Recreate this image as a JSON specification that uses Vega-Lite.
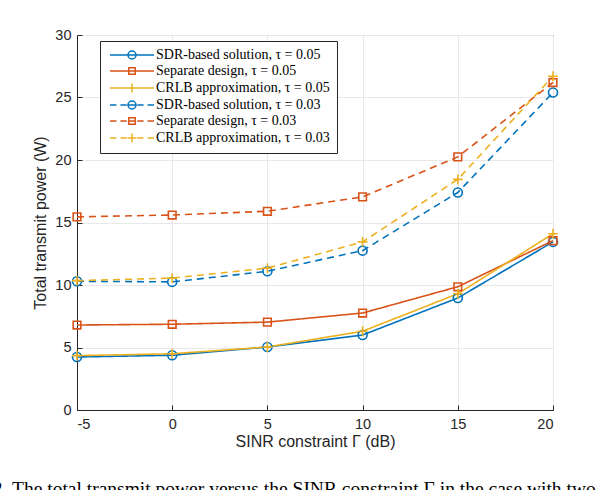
{
  "$schema": "https://vega.github.io/schema/vega-lite/v6.json",
  "autosize": "none",
  "width": 476,
  "height": 375,
  "padding": {"left": 77, "top": 35, "right": 43, "bottom": 80},
  "background": "white",
  "config": {
    "view": {"stroke": "#262626", "strokeWidth": 1},
    "axis": {
      "labelFont": "Liberation Sans",
      "labelFontSize": 14.5,
      "labelColor": "#262626",
      "titleFont": "Liberation Sans",
      "titleFontSize": 16,
      "titleFontWeight": "normal",
      "titleColor": "#262626",
      "domainColor": "#262626",
      "tickColor": "#262626",
      "gridColor": "#e8e8e8",
      "tickSize": -5,
      "labelExpr": "'' + datum.value"
    }
  },
  "title": {
    "text": "2. The total transmit power versus the SINR constraint Γ in the case with two",
    "orient": "bottom",
    "anchor": "start",
    "dx": -40,
    "offset": 30,
    "font": "Liberation Serif",
    "fontSize": 19.5,
    "fontWeight": "normal",
    "color": "black",
    "baseline": "top"
  },
  "data": {
    "values": [
      {"gamma": -5, "power": 4.24, "series": "SDR-based solution, τ = 0.05"},
      {"gamma": 0, "power": 4.38, "series": "SDR-based solution, τ = 0.05"},
      {"gamma": 5, "power": 5.04, "series": "SDR-based solution, τ = 0.05"},
      {"gamma": 10, "power": 6.0, "series": "SDR-based solution, τ = 0.05"},
      {"gamma": 15, "power": 8.96, "series": "SDR-based solution, τ = 0.05"},
      {"gamma": 20, "power": 13.45, "series": "SDR-based solution, τ = 0.05"},
      {"gamma": -5, "power": 6.8, "series": "Separate design, τ = 0.05"},
      {"gamma": 0, "power": 6.86, "series": "Separate design, τ = 0.05"},
      {"gamma": 5, "power": 7.03, "series": "Separate design, τ = 0.05"},
      {"gamma": 10, "power": 7.76, "series": "Separate design, τ = 0.05"},
      {"gamma": 15, "power": 9.86, "series": "Separate design, τ = 0.05"},
      {"gamma": 20, "power": 13.55, "series": "Separate design, τ = 0.05"},
      {"gamma": -5, "power": 4.35, "series": "CRLB approximation, τ = 0.05"},
      {"gamma": 0, "power": 4.5, "series": "CRLB approximation, τ = 0.05"},
      {"gamma": 5, "power": 5.04, "series": "CRLB approximation, τ = 0.05"},
      {"gamma": 10, "power": 6.3, "series": "CRLB approximation, τ = 0.05"},
      {"gamma": 15, "power": 9.3, "series": "CRLB approximation, τ = 0.05"},
      {"gamma": 20, "power": 14.1, "series": "CRLB approximation, τ = 0.05"},
      {"gamma": -5, "power": 10.3, "series": "SDR-based solution, τ = 0.03"},
      {"gamma": 0, "power": 10.25, "series": "SDR-based solution, τ = 0.03"},
      {"gamma": 5, "power": 11.1, "series": "SDR-based solution, τ = 0.03"},
      {"gamma": 10, "power": 12.75, "series": "SDR-based solution, τ = 0.03"},
      {"gamma": 15, "power": 17.4, "series": "SDR-based solution, τ = 0.03"},
      {"gamma": 20, "power": 25.4, "series": "SDR-based solution, τ = 0.03"},
      {"gamma": -5, "power": 15.45, "series": "Separate design, τ = 0.03"},
      {"gamma": 0, "power": 15.6, "series": "Separate design, τ = 0.03"},
      {"gamma": 5, "power": 15.9, "series": "Separate design, τ = 0.03"},
      {"gamma": 10, "power": 17.05, "series": "Separate design, τ = 0.03"},
      {"gamma": 15, "power": 20.25, "series": "Separate design, τ = 0.03"},
      {"gamma": 20, "power": 26.2, "series": "Separate design, τ = 0.03"},
      {"gamma": -5, "power": 10.35, "series": "CRLB approximation, τ = 0.03"},
      {"gamma": 0, "power": 10.55, "series": "CRLB approximation, τ = 0.03"},
      {"gamma": 5, "power": 11.35, "series": "CRLB approximation, τ = 0.03"},
      {"gamma": 10, "power": 13.45, "series": "CRLB approximation, τ = 0.03"},
      {"gamma": 15, "power": 18.45, "series": "CRLB approximation, τ = 0.03"},
      {"gamma": 20, "power": 26.7, "series": "CRLB approximation, τ = 0.03"}
    ]
  },
  "encoding": {
    "x": {
      "field": "gamma",
      "type": "quantitative",
      "scale": {"domain": [-5, 20], "nice": false, "zero": false},
      "axis": {"values": [-5, 0, 5, 10, 15, 20], "title": "SINR constraint Γ (dB)", "labelPadding": 12, "titlePadding": 3}
    },
    "y": {
      "field": "power",
      "type": "quantitative",
      "scale": {"domain": [0, 30], "nice": false},
      "axis": {"values": [0, 5, 10, 15, 20, 25, 30], "title": "Total transmit power (W)", "labelPadding": 11, "titlePadding": 6}
    }
  },
  "layer": [
    {
      "mark": {"type": "line", "strokeWidth": 1.6},
      "encoding": {
        "color": {
          "field": "series",
          "type": "nominal",
          "scale": {
            "domain": ["SDR-based solution, τ = 0.05", "Separate design, τ = 0.05", "CRLB approximation, τ = 0.05", "SDR-based solution, τ = 0.03", "Separate design, τ = 0.03", "CRLB approximation, τ = 0.03"],
            "range": ["#0072BD", "#D95319", "#EDB120", "#0072BD", "#D95319", "#EDB120"]
          },
          "legend": null
        },
        "strokeDash": {
          "field": "series",
          "type": "nominal",
          "scale": {
            "domain": ["SDR-based solution, τ = 0.05", "Separate design, τ = 0.05", "CRLB approximation, τ = 0.05", "SDR-based solution, τ = 0.03", "Separate design, τ = 0.03", "CRLB approximation, τ = 0.03"],
            "range": [[1, 0], [1, 0], [1, 0], [7, 5], [7, 5], [7, 5]]
          },
          "legend": null
        }
      }
    },
    {
      "mark": {"type": "point", "filled": false, "size": 81, "strokeWidth": 1.6, "opacity": 1},
      "encoding": {
        "color": {
          "field": "series",
          "type": "nominal",
          "scale": {
            "domain": ["SDR-based solution, τ = 0.05", "Separate design, τ = 0.05", "CRLB approximation, τ = 0.05", "SDR-based solution, τ = 0.03", "Separate design, τ = 0.03", "CRLB approximation, τ = 0.03"],
            "range": ["#0072BD", "#D95319", "#EDB120", "#0072BD", "#D95319", "#EDB120"]
          },
          "legend": null
        },
        "shape": {
          "field": "series",
          "type": "nominal",
          "scale": {
            "domain": ["SDR-based solution, τ = 0.05", "Separate design, τ = 0.05", "CRLB approximation, τ = 0.05", "SDR-based solution, τ = 0.03", "Separate design, τ = 0.03", "CRLB approximation, τ = 0.03"],
            "range": ["circle", "M-0.85,-0.85H0.85V0.85H-0.85Z", "M-1.1,0H1.1M0,-1.1V1.1", "circle", "M-0.85,-0.85H0.85V0.85H-0.85Z", "M-1.1,0H1.1M0,-1.1V1.1"]
          },
          "legend": null
        }
      }
    },
    {
      "mark": {"type": "point", "filled": false, "size": 64, "strokeWidth": 1.5, "opacity": 0},
      "encoding": {
        "color": {
          "field": "series",
          "type": "nominal",
          "scale": {
            "domain": ["SDR-based solution, τ = 0.05", "Separate design, τ = 0.05", "CRLB approximation, τ = 0.05", "SDR-based solution, τ = 0.03", "Separate design, τ = 0.03", "CRLB approximation, τ = 0.03"],
            "range": ["#0072BD", "#D95319", "#EDB120", "#0072BD", "#D95319", "#EDB120"]
          },
          "legend": {
            "title": null,
            "orient": "none",
            "legendX": 23,
            "legendY": 6,
            "labelFont": "Liberation Serif",
            "labelFontSize": 14,
            "labelColor": "black",
            "labelOffset": 35,
            "labelLimit": 400,
            "symbolSize": 64,
            "symbolStrokeWidth": 1.5,
            "symbolOpacity": 1,
            "symbolFillColor": "transparent",
            "rowPadding": 2,
            "padding": 7,
            "strokeColor": "#262626",
            "fillColor": "white",
            "cornerRadius": 0
          }
        },
        "shape": {
          "field": "series",
          "type": "nominal",
          "scale": {
            "domain": ["SDR-based solution, τ = 0.05", "Separate design, τ = 0.05", "CRLB approximation, τ = 0.05", "SDR-based solution, τ = 0.03", "Separate design, τ = 0.03", "CRLB approximation, τ = 0.03"],
            "range": [
              "M-1,0H10M5.5,0A1,1 0 1,1 3.5,0A1,1 0 1,1 5.5,0",
              "M-1,0H10M3.7,-0.8H5.3V0.8H3.7Z",
              "M-1,0H10M3.4,0H5.6M4.5,-1.1V1.1",
              "M-1,0H0.6M1.6,0H3.2M3.5,0H5.5M5.8,0H7.4M8.4,0H10M5.5,0A1,1 0 1,1 3.5,0A1,1 0 1,1 5.5,0",
              "M-1,0H0.6M1.6,0H3.2M3.7,0H5.3M5.8,0H7.4M8.4,0H10M3.7,-0.8H5.3V0.8H3.7Z",
              "M-1,0H0.6M1.6,0H3.2M3.4,0H5.6M5.8,0H7.4M8.4,0H10M4.5,-1.1V1.1"
            ]
          },
          "legend": {
            "title": null,
            "orient": "none",
            "legendX": 23,
            "legendY": 6,
            "labelFont": "Liberation Serif",
            "labelFontSize": 14,
            "labelColor": "black",
            "labelOffset": 35,
            "labelLimit": 400,
            "symbolSize": 64,
            "symbolStrokeWidth": 1.5,
            "symbolOpacity": 1,
            "symbolFillColor": "transparent",
            "rowPadding": 2,
            "padding": 7,
            "strokeColor": "#262626",
            "fillColor": "white",
            "cornerRadius": 0
          }
        }
      }
    }
  ],
  "resolve": {"scale": {"shape": "independent", "color": "independent"}}
}
